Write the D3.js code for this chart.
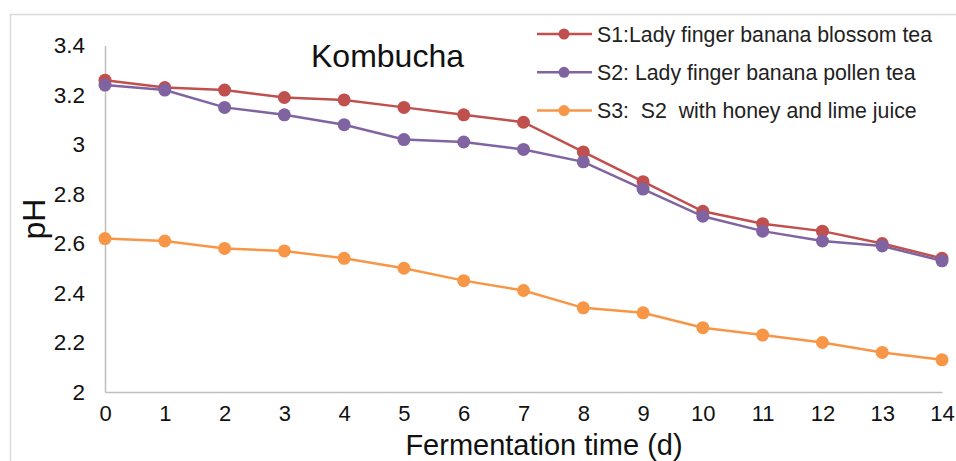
<!DOCTYPE html>
<html>
<head>
<meta charset="utf-8">
<script src="https://cdn.jsdelivr.net/npm/d3@7"></script>
<style>
  body { margin: 0; background: #fff; }
  svg { display: block; font-family: Arial, "Liberation Sans", sans-serif; }
</style>
</head>
<body>
<div id="chart"></div>
<script>
const days = d3.range(0, 15);
const s1 = [3.26, 3.23, 3.22, 3.19, 3.18, 3.15, 3.12, 3.09, 2.97, 2.85, 2.73, 2.68, 2.65, 2.60, 2.54];
const s2 = [3.24, 3.22, 3.15, 3.12, 3.08, 3.02, 3.01, 2.98, 2.93, 2.82, 2.71, 2.65, 2.61, 2.59, 2.53];
const s3 = [2.62, 2.61, 2.58, 2.57, 2.54, 2.50, 2.45, 2.41, 2.34, 2.32, 2.26, 2.23, 2.20, 2.16, 2.13];
const seriesNames = ["S1:Lady finger banana blossom tea", "S2: Lady finger banana pollen tea", "S3:  S2  with honey and lime juice"];
const seriesColors = ["#C0504D", "#8064A2", "#F79646"];
const yTicks = [2, 2.2, 2.4, 2.6, 2.8, 3, 3.2, 3.4];

const width = 956, height = 461;
const svg = d3.select("#chart").append("svg")
    .attr("width", width)
    .attr("height", height);

// outer chart frame (cut off by the picture at right/bottom)
svg.append("rect")
    .attr("x", 10.5).attr("y", 14.5)
    .attr("width", 960).attr("height", 460)
    .attr("fill", "none")
    .attr("stroke", "#d9d9d9")
    .attr("stroke-width", 1.5);

const x = d3.scaleLinear().domain([0, 14]).range([105, 942]);
const y = d3.scaleLinear().domain([2, 3.4]).range([392, 45.5]);

// axes
const xAxis = svg.append("g")
    .attr("transform", `translate(0,${y(2)})`)
    .call(d3.axisBottom(x).tickValues(days).tickFormat(d3.format("d")).tickSize(0).tickPadding(13));
const yAxis = svg.append("g")
    .attr("transform", `translate(${x(0)},0)`)
    .call(d3.axisLeft(y).tickValues(yTicks).tickFormat(d => String(d)).tickSize(0).tickPadding(20));

[xAxis, yAxis].forEach(g => {
    g.select(".domain").attr("stroke", "#bfbfbf").attr("stroke-width", 1.5);
    g.selectAll("text").attr("font-size", 22.5).attr("fill", "#111")
        .attr("font-family", "Arial, 'Liberation Sans', sans-serif");
});
xAxis.selectAll("text").attr("font-size", 22);

// titles
svg.append("text")
    .attr("x", 311).attr("y", 67)
    .attr("font-size", 32).attr("fill", "#111")
    .text("Kombucha");

svg.append("text")
    .attr("x", 544).attr("y", 454.5)
    .attr("text-anchor", "middle")
    .attr("font-size", 29).attr("fill", "#111")
    .text("Fermentation time (d)");

svg.append("text")
    .attr("transform", `translate(45,219) rotate(-90)`)
    .attr("text-anchor", "middle")
    .attr("font-size", 32).attr("fill", "#111")
    .text("pH");

// series
const allSeries = [s1, s2, s3];
const line = d3.line().x((d, i) => x(days[i])).y(d => y(d));

allSeries.forEach((vals, k) => {
    const g = svg.append("g");
    g.append("path")
        .datum(vals)
        .attr("d", line)
        .attr("fill", "none")
        .attr("stroke", seriesColors[k])
        .attr("stroke-width", 2.5);
    g.selectAll("circle")
        .data(vals)
        .enter()
        .append("circle")
        .attr("cx", (d, i) => x(days[i]))
        .attr("cy", d => y(d))
        .attr("r", 6.5)
        .attr("fill", seriesColors[k]);
});

// legend
const legend = svg.append("g").attr("transform", "translate(537,34)");
seriesNames.forEach((name, k) => {
    const row = legend.append("g").attr("transform", `translate(0,${k * 38.3})`);
    row.append("line")
        .attr("x1", 0).attr("x2", 55)
        .attr("stroke", seriesColors[k])
        .attr("stroke-width", 2.5);
    row.append("circle")
        .attr("cx", 27).attr("r", 5.5)
        .attr("fill", seriesColors[k]);
    row.append("text")
        .attr("x", 60).attr("dy", "0.36em")
        .attr("font-size", 21.3).attr("fill", "#222")
        .style("white-space", "pre")
        .text(name);
});
</script>
</body>
</html>
